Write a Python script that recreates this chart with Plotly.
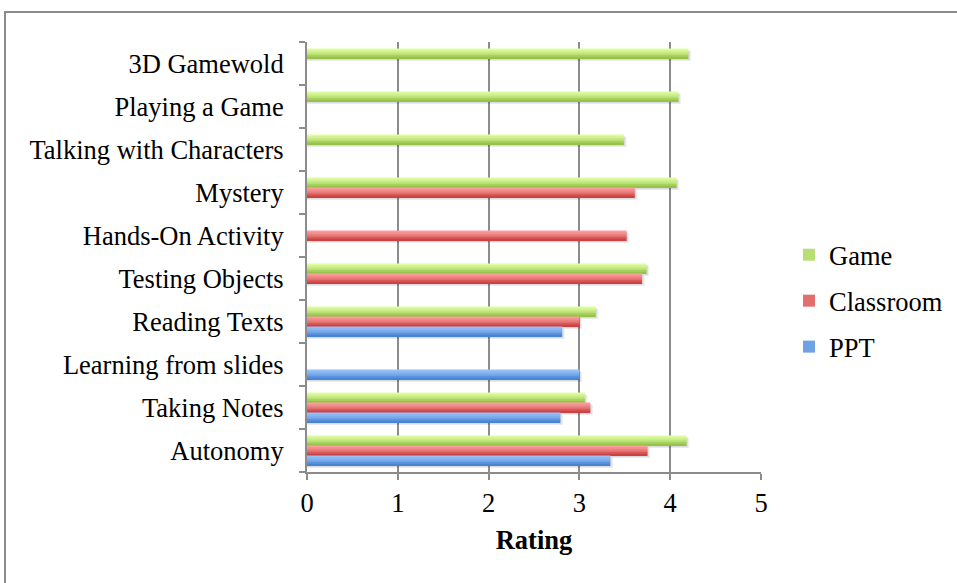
import plotly.graph_objects as go

# Categories listed bottom to top
categories = [
    "Autonomy", "Taking Notes", "Learning from slides", "Reading Texts",
    "Testing Objects", "Hands-On Activity", "Mystery",
    "Talking with Characters", "Playing a Game", "3D Gamewold",
]
ppt = [3.34, 2.79, 3.00, 2.81, None, None, None, None, None, None]
classroom = [3.75, 3.12, None, 3.00, 3.69, 3.52, 3.61, None, None, None]
game = [4.18, 3.06, None, 3.18, 3.74, None, 4.07, 3.49, 4.09, 4.20]
x_ticks = [0, 1, 2, 3, 4, 5]

FONT = "Liberation Serif"
FS = 26.5
BAR_W = 0.233
N_STRIPES = 6

# (name, values, slot offset, light colour, dark colour)
series = [
    ("Game", game, BAR_W / 2, (222, 252, 160), (150, 196, 74)),
    ("Classroom", classroom, -BAR_W / 2, (252, 156, 156), (204, 66, 66)),
    ("PPT", ppt, -1.5 * BAR_W, (150, 192, 250), (72, 132, 212)),
]


def mix(c1, c2, t):
    return "rgb(%d,%d,%d)" % tuple(round(a + (b - a) * t) for a, b in zip(c1, c2))


fig = go.Figure()

# soft drop shadows behind bars
for name, vals, off, light, dark in series:
    for k, alpha in enumerate([0.06, 0.09]):
        shadow_x = [v + 0.03 - 0.015 * k if v is not None else None for v in vals]
        fig.add_trace(go.Bar(
            y=categories, x=shadow_x, orientation="h",
            offset=off - 0.06 + 0.02 * k, width=BAR_W,
            marker=dict(color="rgba(0,0,0,%.2f)" % alpha, line=dict(width=0)),
            showlegend=False, hoverinfo="skip",
        ))

# bars drawn as horizontal stripes to give a vertical light-to-dark gradient
stripe = BAR_W / N_STRIPES
for rank, (name, vals, off, light, dark) in enumerate(series):
    for i in range(N_STRIPES):
        t = i / (N_STRIPES - 1)
        # i = 0 is the top stripe (lightest)
        stripe_off = off + BAR_W - (i + 1) * stripe
        fig.add_trace(go.Bar(
            y=categories, x=vals, orientation="h",
            offset=stripe_off, width=stripe * 1.02,
            marker=dict(color=mix(light, dark, t ** 1.3), line=dict(width=0)),
            name=name, legendgroup=name, legendrank=rank,
            showlegend=(i == N_STRIPES // 2),
        ))

# outer chart frame
fig.add_shape(
    type="rect", xref="paper", yref="paper",
    x0=(5 - 307) / 454, x1=(960 - 307) / 454,
    y0=(472 - 600) / 430, y1=(472 - 12) / 430,
    line=dict(color="#8c8c8c", width=2), fillcolor="rgba(0,0,0,0)", layer="below",
)

fig.update_layout(
    width=957, height=583,
    margin=dict(l=307, r=196, t=42, b=111, autoexpand=False),
    paper_bgcolor="white", plot_bgcolor="white",
    barmode="overlay",
    font=dict(family=FONT, size=FS, color="black"),
    showlegend=True,
    legend=dict(
        x=(789 - 307) / 454, y=(472 - 301) / 430, xanchor="left", yanchor="middle",
        font=dict(family=FONT, size=FS, color="black"),
        tracegroupgap=8.5, itemwidth=30,
        bgcolor="rgba(0,0,0,0)",
    ),
    xaxis=dict(
        range=[0, 5], tickvals=x_ticks, ticktext=[str(v) for v in x_ticks],
        showgrid=True, gridcolor="#8c8c8c", gridwidth=2,
        showline=True, linecolor="#8c8c8c", linewidth=2,
        ticks="outside", ticklen=6, tickwidth=2, tickcolor="#8c8c8c",
        zeroline=False,
        tickfont=dict(family=FONT, size=FS),
        title=dict(text="<b>Rating</b>", font=dict(family=FONT, size=FS), standoff=14),
    ),
    yaxis=dict(
        type="category", categoryorder="array", categoryarray=categories,
        range=[-0.5, len(categories) - 0.5],
        showgrid=False, showline=True, linecolor="#8c8c8c", linewidth=2,
        ticks="outside", ticklen=6, tickwidth=2, tickcolor="#8c8c8c",
        tickson="boundaries", ticklabelstandoff=16,
        tickfont=dict(family=FONT, size=FS),
    ),
)

fig.write_html("out.html")
